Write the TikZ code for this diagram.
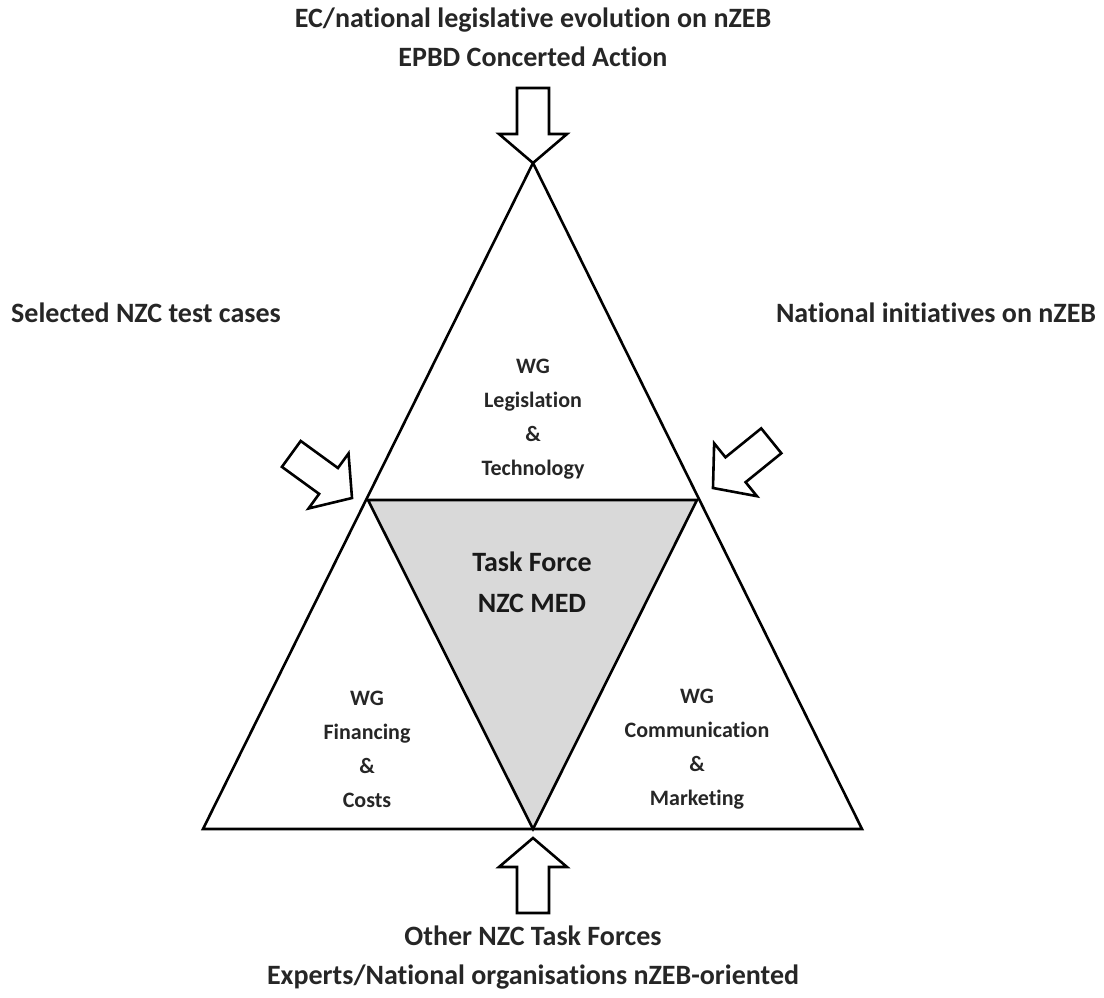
\documentclass[tikz,border=0pt]{standalone}
\usepackage{fontspec}
\setmainfont{Carlito}[Ligatures=NoCommon]
\usetikzlibrary{calc}
\tikzset{
	edge/.style={line width=2.6pt,line join=miter},
	wg/.style={align=center,font=\bfseries\fontsize{22}{34}\selectfont,text=black!85},
	src/.style={align=center,font=\bfseries\fontsize{28}{39}\selectfont,text=black!85},
	tf/.style={align=center,font=\bfseries\fontsize{28}{41}\selectfont,text=black!90},
	blockarrow/.pic={
		\draw[line width=2.6pt,line join=miter,fill=white] (0,0) -- (-29,34) -- (-29,16) -- (-75,16) -- (-75,-16) -- (-29,-16) -- (-29,-34) -- cycle;
	}
}
\begin{document}
\begin{tikzpicture}[x=1pt,y=-1pt]
						\useasboundingbox (0,0) rectangle (1104,997);
						\coordinate (apex) at (533,163);
						\coordinate (bl) at (203,829);
						\coordinate (br) at (862,829);
						\coordinate (ml) at (368,500);
						\coordinate (mr) at (697,500);
						\coordinate (mb) at (533,829);

						\draw [edge] (apex) -- (bl) -- (br) -- cycle;
						\draw [edge,fill=gray!30] (ml) -- (mr) -- (mb) -- cycle;

						\node [wg] (legis) at (533,419) {WG\\Legislation\\\&\\Technology};
						\node [wg] (fin) at (367,749) {WG\\Financing\\\&\\Costs};
						\node [wg] (comm) at (697,749) {WG\\Communication\\\&\\Marketing};
						\node [tf] (task) at (532,582) {Task Force\\NZC MED};

						\node [src] (top) at (533,37) {EC/national legislative evolution on nZEB\\EPBD Concerted Action};
						\node [src] (left) at (146,313) {Selected NZC test cases};
						\node [src] (right) at (936,313) {National initiatives on nZEB};
						\node [src] (bottom) at (533,958) {Other NZC Task Forces\\Experts/National organisations nZEB-oriented};

						\coordinate (tipT) at (apex);
						\coordinate (tipL) at ($(ml)+(-16,-2)$);
						\coordinate (tipR) at ($(mr)+(16,-12)$);
						\coordinate (tipB) at ($(mb)+(0,9)$);
						\pic [rotate=-90] at (tipT) {blockarrow};
						\pic [rotate=-36] at (tipL) {blockarrow};
						\pic [rotate=-141] at (tipR) {blockarrow};
						\pic [rotate=90] at (tipB) {blockarrow};
					\end{tikzpicture}
\end{document}
